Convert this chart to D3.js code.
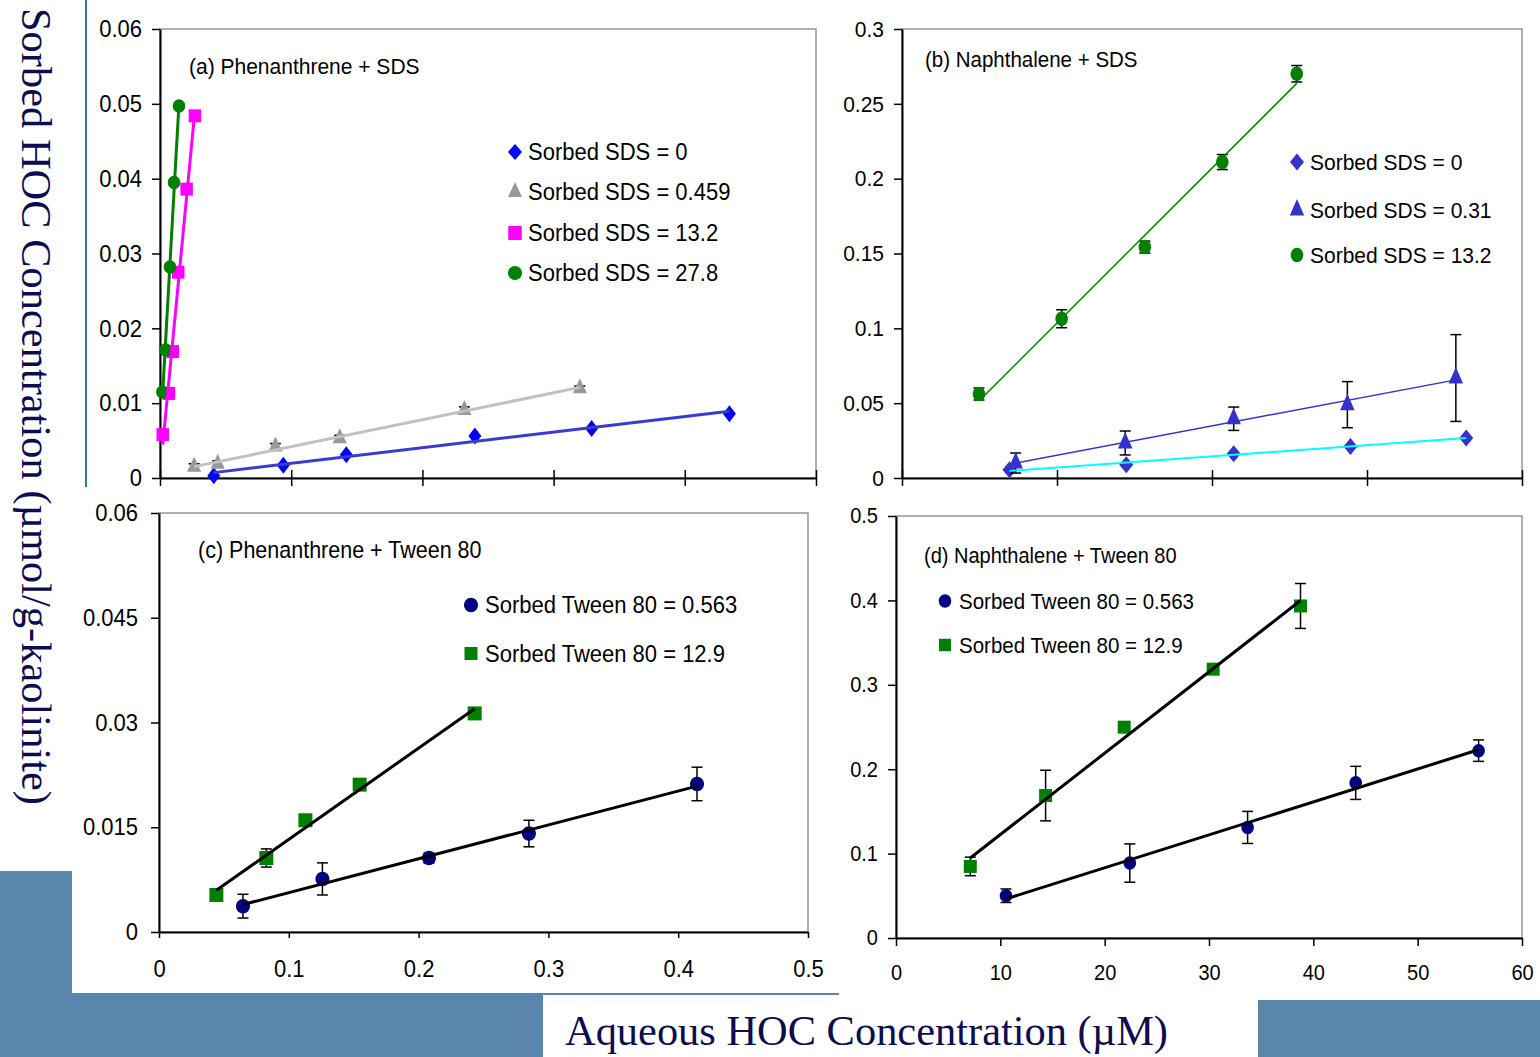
<!doctype html>
<html lang="en">
<head>
<meta charset="UTF-8">
<title>Sorbed HOC vs aqueous HOC</title>
<style>
    body { margin: 0; background: #fff; }
    svg { display: block; }
    .tick text { font-family: "Liberation Sans", Arial, sans-serif; fill: #000; }
    .lbl { font-family: "Liberation Sans", Arial, sans-serif; fill: #000; }
    .big { font-family: "Liberation Serif", "Times New Roman", serif; fill: #0c0c4e; font-size: 43px; }
</style>
</head>
<body>
<svg width="1540" height="1057"></svg>
<script src="https://cdn.jsdelivr.net/npm/d3@7"></script>
<script>
// ---- (a) Phenanthrene + SDS ----
const phenSds0X = [0.041, 0.094, 0.142, 0.240, 0.329, 0.434];
const phenSds0Y = [0.0003, 0.0017, 0.0031, 0.0056, 0.0066, 0.0086];
const phenSds459X = [0.026, 0.044, 0.088, 0.137, 0.232, 0.320];
const phenSds459Y = [0.0015, 0.0019, 0.0042, 0.0053, 0.0091, 0.0120];
const phenSds459Err = [0.0004, 0.0004, 0.0004, 0.0004, 0.0004, 0.0003];
const phenSds13X = [0.0021, 0.0068, 0.0097, 0.0139, 0.0203, 0.0266];
const phenSds13Y = [0.0058, 0.0113, 0.0169, 0.0275, 0.0386, 0.0484];
const phenSds28X = [0.0018, 0.0043, 0.0076, 0.0107, 0.0145];
const phenSds28Y = [0.0115, 0.0171, 0.0282, 0.0395, 0.0497];

// ---- (b) Naphthalene + SDS ----
const naphSds0X = [10.4, 21.7, 32.1, 43.4, 54.6];
const naphSds0Y = [0.0055, 0.0089, 0.0162, 0.0211, 0.0267];
const naphSds031X = [11.0, 21.6, 32.1, 43.1, 53.6];
const naphSds031Y = [0.0100, 0.0234, 0.0396, 0.0490, 0.0668];
const naphSds031Err = [0.0067, 0.0080, 0.0078, 0.0154, 0.0290];
const naphSds13X = [7.45, 15.45, 23.5, 31.0, 38.2];
const naphSds13Y = [0.0561, 0.1064, 0.1543, 0.2111, 0.2701];
const naphSds13Err = [0.004, 0.006, 0.004, 0.005, 0.0055];

// ---- (c) Phenanthrene + Tween 80 ----
const phenTw056X = [0.0647, 0.1259, 0.208, 0.285, 0.4145];
const phenTw056Y = [0.0037, 0.0076, 0.0106, 0.0141, 0.0212];
const phenTw056Err = [0.0017, 0.0023, 0.0007, 0.0019, 0.0024];
const phenTw129X = [0.0442, 0.0827, 0.1128, 0.1546, 0.2432];
const phenTw129Y = [0.0053, 0.0106, 0.0160, 0.0211, 0.0313];
const phenTw129Err = [0, 0.0013, 0, 0, 0];

// ---- (d) Naphthalene + Tween 80 ----
const naphTw056X = [10.54, 22.41, 33.7, 44.06, 55.84];
const naphTw056Y = [0.0501, 0.0888, 0.1310, 0.1838, 0.2220];
const naphTw056Err = [0.008, 0.0227, 0.019, 0.0196, 0.0127];
const naphTw129X = [7.12, 14.34, 21.87, 30.4, 38.77];
const naphTw129Y = [0.0848, 0.1688, 0.2498, 0.3185, 0.3934];
const naphTw129Err = [0.011, 0.030, 0.006, 0.003, 0.0266];

// ---- ticks ----
const phenXTicks = [0, 0.1, 0.2, 0.3, 0.4, 0.5];
const phenXLabels = ["0", "0.1", "0.2", "0.3", "0.4", "0.5"];
const naphSdsXTicks = [0, 15, 30, 45, 60];
const naphTwXTicks = [0, 10, 20, 30, 40, 50, 60];
const naphTwXLabels = ["0", "10", "20", "30", "40", "50", "60"];
const aYTicks = [0, 0.01, 0.02, 0.03, 0.04, 0.05, 0.06];
const aYLabels = ["0", "0.01", "0.02", "0.03", "0.04", "0.05", "0.06"];
const bYTicks = [0, 0.05, 0.1, 0.15, 0.2, 0.25, 0.3];
const bYLabels = ["0", "0.05", "0.1", "0.15", "0.2", "0.25", "0.3"];
const cYTicks = [0, 0.015, 0.03, 0.045, 0.06];
const cYLabels = ["0", "0.015", "0.03", "0.045", "0.06"];
const dYTicks = [0, 0.1, 0.2, 0.3, 0.4, 0.5];
const dYLabels = ["0", "0.1", "0.2", "0.3", "0.4", "0.5"];

const svg = d3.select("svg");
const slideBlue = "#5a86ae";

// slide decoration
svg.append("rect").attr("x", 0).attr("y", 871).attr("width", 72).attr("height", 186).attr("fill", slideBlue);
svg.append("rect").attr("x", 0).attr("y", 993).attr("width", 543).attr("height", 64).attr("fill", slideBlue);
svg.append("rect").attr("x", 1258).attr("y", 1000).attr("width", 282).attr("height", 57).attr("fill", slideBlue);
svg.append("line").attr("x1", 543).attr("x2", 839).attr("y1", 994).attr("y2", 994).attr("stroke", slideBlue).attr("stroke-width", 2);
svg.append("line").attr("x1", 86).attr("x2", 86).attr("y1", 0).attr("y2", 487).attr("stroke", "#3f70a6").attr("stroke-width", 2);

// marker shapes
const diamond = (w, h) => ({ draw(c) { c.moveTo(0, -h / 2); c.lineTo(w / 2, 0); c.lineTo(0, h / 2); c.lineTo(-w / 2, 0); c.closePath(); } });
const triangle = (w, h) => ({ draw(c) { c.moveTo(0, -2 * h / 3); c.lineTo(w / 2, h / 3); c.lineTo(-w / 2, h / 3); c.closePath(); } });
const square = (w, h) => ({ draw(c) { c.rect(-w / 2, -h / 2, w, h); } });
const oval = (w, h) => ({ draw(c) { // ellipse from four bezier arcs
    const k = 0.5523, a = w / 2, b = h / 2;
    c.moveTo(a, 0);
    c.bezierCurveTo(a, b * k, a * k, b, 0, b);
    c.bezierCurveTo(-a * k, b, -a, b * k, -a, 0);
    c.bezierCurveTo(-a, -b * k, -a * k, -b, 0, -b);
    c.bezierCurveTo(a * k, -b, a, -b * k, a, 0);
    c.closePath();
} });

function fitLine(xs, ys) {
    const mx = d3.mean(xs), my = d3.mean(ys);
    const b = d3.sum(xs, (v, i) => (v - mx) * (ys[i] - my)) / d3.sum(xs, v => (v - mx) * (v - mx));
    return d3.extent(xs).map(v => [v, my + b * (v - mx)]);
}

function drawPanel(p) {
    const x = d3.scaleLinear().domain(p.xDomain).range([p.left, p.right]);
    const y = d3.scaleLinear().domain(p.yDomain).range([p.bottom, p.top]);
    const g = svg.append("g");

    g.append("rect")
        .attr("x", p.left).attr("y", p.top)
        .attr("width", p.right - p.left).attr("height", p.bottom - p.top)
        .attr("fill", "#fff").attr("stroke", "#969696").attr("stroke-width", 1.5);

    const ya = g.append("g")
        .attr("transform", "translate(" + p.left + ",0)")
        .call(d3.axisLeft(y).tickValues(p.yTicks).tickFormat((d, i) => p.yLabels[i])
            .tickSize(8).tickSizeOuter(0).tickPadding(p.yPad));
    const xa = g.append("g")
        .attr("transform", "translate(0," + p.bottom + ")")
        .call(d3.axisBottom(x).tickValues(p.xTicks)
            .tickFormat((d, i) => p.xLabels ? p.xLabels[i] : "")
            .tickSize(p.xTickSize).tickSizeOuter(0).tickPadding(p.xPad));
    if (p.crossTicks) xa.selectAll(".tick line").attr("y1", -p.xTickSize);
    [ya, xa].forEach(a => {
        a.select(".domain").attr("stroke", "#000").attr("stroke-width", 2);
        a.selectAll(".tick line").attr("stroke", "#000").attr("stroke-width", 1.5);
        a.selectAll(".tick text").attr("class", "lbl").style("font-size", p.tickFont + "px");
    });

    // error bars, markers, then trend lines on top
    p.series.forEach(s => {
        const pts = s.xs.map((v, i) => ({ x: v, y: s.ys[i], e: s.err ? s.err[i] : 0 }));
        const eb = g.append("g").attr("stroke", "#000").attr("stroke-width", 1.5).attr("fill", "none");
        pts.filter(d => d.e > 0).forEach(d => {
            const cx = x(d.x), y1 = y(d.y + d.e), y2 = y(d.y - d.e);
            eb.append("line").attr("x1", cx).attr("x2", cx).attr("y1", y1).attr("y2", y2);
            eb.append("line").attr("x1", cx - 5.5).attr("x2", cx + 5.5).attr("y1", y1).attr("y2", y1);
            eb.append("line").attr("x1", cx - 5.5).attr("x2", cx + 5.5).attr("y1", y2).attr("y2", y2);
        });
        g.append("g").selectAll("path").data(pts).join("path")
            .attr("d", d3.symbol().type(s.shape))
            .attr("transform", d => "translate(" + x(d.x) + "," + y(d.y) + ")")
            .attr("fill", s.fill);
    });
    p.series.forEach(s => {
        g.append("path")
            .datum(fitLine(s.xs, s.ys))
            .attr("d", d3.line().x(d => x(d[0])).y(d => y(d[1])))
            .attr("fill", "none").attr("stroke", s.line).attr("stroke-width", s.lineWidth);
    });

    g.append("text").attr("class", "lbl")
        .attr("x", p.title.x).attr("y", p.title.y)
        .style("font-size", p.title.size + "px").text(p.title.text);

    p.series.forEach((s, i) => {
        const ly = p.legend.rows[i];
        g.append("path")
            .attr("d", d3.symbol().type(s.legendShape || s.shape))
            .attr("transform", "translate(" + p.legend.markerX + "," + ly + ")")
            .attr("fill", s.fill);
        g.append("text").attr("class", "lbl")
            .attr("x", p.legend.textX).attr("y", ly + p.legend.font * 0.37)
            .style("font-size", p.legend.font + "px").text(s.name);
    });
}

drawPanel({
    left: 160, right: 816, top: 29, bottom: 478,
    xDomain: [0, 0.5], yDomain: [0, 0.06],
    xTicks: phenXTicks, xLabels: null, xTickSize: 8, xPad: 0, crossTicks: true,
    yTicks: aYTicks, yLabels: aYLabels, yPad: 10, tickFont: 22,
    title: { text: "(a) Phenanthrene + SDS", x: 189, y: 74, size: 21 },
    legend: { markerX: 515, textX: 528, rows: [152, 192, 233, 273], font: 22 },
    series: [
        { name: "Sorbed SDS = 0", xs: phenSds0X, ys: phenSds0Y, shape: diamond(13, 17), legendShape: diamond(14, 16), fill: "#0000ff", line: "#3a3ad0", lineWidth: 3 },
        { name: "Sorbed SDS = 0.459", xs: phenSds459X, ys: phenSds459Y, err: phenSds459Err, shape: triangle(14, 15), fill: "#999999", line: "#c0c0c0", lineWidth: 3 },
        { name: "Sorbed SDS = 13.2", xs: phenSds13X, ys: phenSds13Y, shape: square(12.5, 13), legendShape: square(13.5, 14), fill: "#ff00ff", line: "#ff00ff", lineWidth: 3 },
        { name: "Sorbed SDS = 27.8", xs: phenSds28X, ys: phenSds28Y, shape: oval(12.5, 13.5), legendShape: oval(14, 14), fill: "#008000", line: "#008000", lineWidth: 3 }
    ]
});

drawPanel({
    left: 902, right: 1522, top: 29, bottom: 478,
    xDomain: [0, 60], yDomain: [0, 0.3],
    xTicks: naphSdsXTicks, xLabels: null, xTickSize: 8, xPad: 0, crossTicks: true,
    yTicks: bYTicks, yLabels: bYLabels, yPad: 10, tickFont: 21,
    title: { text: "(b) Naphthalene + SDS", x: 925, y: 67, size: 20.5 },
    legend: { markerX: 1297, textX: 1310, rows: [162, 210, 255], font: 21 },
    series: [
        { name: "Sorbed SDS = 0", xs: naphSds0X, ys: naphSds0Y, shape: diamond(14, 17), fill: "#3333cc", line: "#00ffff", lineWidth: 2 },
        { name: "Sorbed SDS = 0.31", xs: naphSds031X, ys: naphSds031Y, err: naphSds031Err, shape: triangle(14.5, 16.5), fill: "#3333cc", line: "#3333cc", lineWidth: 1.5 },
        { name: "Sorbed SDS = 13.2", xs: naphSds13X, ys: naphSds13Y, err: naphSds13Err, shape: oval(12.5, 14.5), fill: "#008000", line: "#008000", lineWidth: 1.5 }
    ]
});

drawPanel({
    left: 159, right: 808, top: 513, bottom: 932,
    xDomain: [0, 0.5], yDomain: [0, 0.06],
    xTicks: phenXTicks, xLabels: phenXLabels, xTickSize: 6, xPad: 22, crossTicks: false,
    yTicks: cYTicks, yLabels: cYLabels, yPad: 13, tickFont: 22,
    title: { text: "(c) Phenanthrene + Tween 80", x: 198, y: 558, size: 21.5 },
    legend: { markerX: 471, textX: 485, rows: [605, 653.5], font: 22 },
    series: [
        { name: "Sorbed Tween 80 = 0.563", xs: phenTw056X, ys: phenTw056Y, err: phenTw056Err, shape: oval(14, 14.5), fill: "#000080", line: "#000", lineWidth: 3 },
        { name: "Sorbed Tween 80 = 12.9", xs: phenTw129X, ys: phenTw129Y, err: phenTw129Err, shape: square(14, 14), legendShape: square(13, 13), fill: "#008000", line: "#000", lineWidth: 3 }
    ]
});

drawPanel({
    left: 896, right: 1522, top: 516, bottom: 938,
    xDomain: [0, 60], yDomain: [0, 0.5],
    xTicks: naphTwXTicks, xLabels: naphTwXLabels, xTickSize: 8, xPad: 19, crossTicks: false,
    yTicks: dYTicks, yLabels: dYLabels, yPad: 10, tickFont: 20,
    title: { text: "(d) Naphthalene + Tween 80", x: 924, y: 562.5, size: 20 },
    legend: { markerX: 945, textX: 959, rows: [601, 645], font: 20.5 },
    series: [
        { name: "Sorbed Tween 80 = 0.563", xs: naphTw056X, ys: naphTw056Y, err: naphTw056Err, shape: oval(12.5, 13.5), fill: "#000080", line: "#000", lineWidth: 3 },
        { name: "Sorbed Tween 80 = 12.9", xs: naphTw129X, ys: naphTw129Y, err: naphTw129Err, shape: square(13, 13), legendShape: square(12, 12.5), fill: "#008000", line: "#000", lineWidth: 3 }
    ]
});

// the source lettering is a little taller than its width suggests:
// keep each label's width, enlarge the glyphs and squeeze them back
svg.selectAll("text.lbl").each(function() {
    const t = d3.select(this);
    const w = this.getComputedTextLength();
    if (!w) return;
    const fs = parseFloat(t.style("font-size"));
    t.style("font-size", (fs * 1.09) + "px")
        .attr("textLength", w).attr("lengthAdjust", "spacingAndGlyphs");
});

// shared axis titles
svg.append("text").attr("class", "big")
    .attr("transform", "translate(22,8) rotate(90)")
    .attr("textLength", 797).attr("lengthAdjust", "spacingAndGlyphs")
    .text("Sorbed HOC Concentration (µmol/g-kaolinite)");
svg.append("text").attr("class", "big")
    .attr("x", 565).attr("y", 1045)
    .attr("textLength", 603).attr("lengthAdjust", "spacingAndGlyphs")
    .text("Aqueous HOC Concentration (µM)");
</script>
</body>
</html>
